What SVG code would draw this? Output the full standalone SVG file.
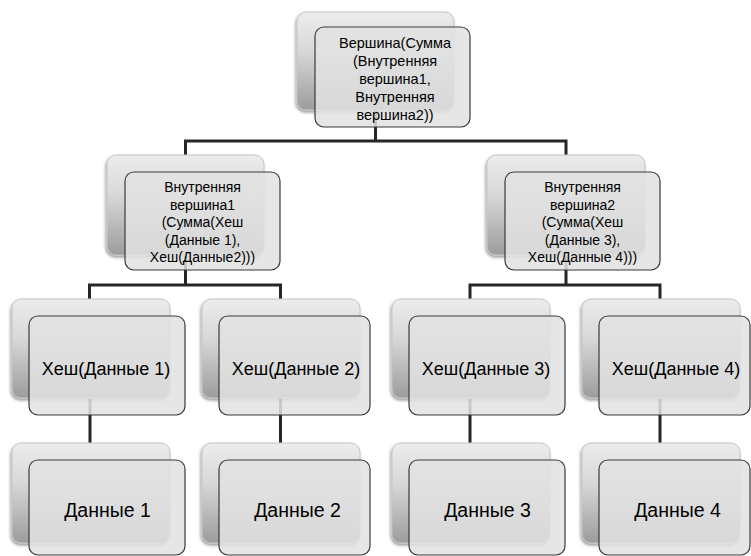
<svg xmlns="http://www.w3.org/2000/svg" width="751" height="556" viewBox="0 0 751 556">
<defs>
<linearGradient id="gb" x1="0" y1="0" x2="0" y2="1">
<stop offset="0" stop-color="#ececec"/>
<stop offset="0.4" stop-color="#d8d8d8"/>
<stop offset="1" stop-color="#9c9c9c"/>
</linearGradient>
<filter id="sh" x="-10%" y="-10%" width="120%" height="125%">
<feDropShadow dx="-1" dy="2" stdDeviation="1.5" flood-color="#000" flood-opacity="0.4"/>
</filter>
</defs>
<style>
.back{fill:url(#gb);stroke:#c4c4c4;stroke-width:1;filter:url(#sh)}
.front{fill:#e2e2e2;fill-opacity:0.86;stroke:#3a3a3a;stroke-width:1.2}
.conn{fill:none;stroke:#262626;stroke-width:3;stroke-linejoin:miter;stroke-linecap:butt}
text{font-family:"Liberation Sans",Arial,sans-serif;fill:#000;text-anchor:middle}
.t{font-size:14.5px}
.s{font-size:14px}
.b{font-size:18px}
.d{font-size:19.5px}
</style>
<rect width="751" height="556" fill="#fff"/>
<g id="connectors">
<path class="conn" d="M375.5 110 V141 M185.5 155 V141 H566 V155"/>
<path class="conn" d="M185.5 255 V285 M89.5 299 V285 H280.5 V299"/>
<path class="conn" d="M566 255 V285 M470 299 V285 H660 V299"/>
<path class="conn" d="M90 398 V443 M280.5 398 V443 M470 398 V443 M660 398 V443"/>
</g>
<g id="root">
<rect class="back" x="297" y="12" width="157" height="98" rx="9"/>
<rect class="front" x="315" y="27" width="155" height="100" rx="9"/>
<text class="t"><tspan x="395" y="48">Вершина(Сумма</tspan><tspan x="395" y="66">(Внутренняя</tspan><tspan x="395" y="84">вершина1,</tspan><tspan x="395" y="102">Внутренняя</tspan><tspan x="395" y="120">вершина2))</tspan></text>
</g>
<g id="inner1">
<rect class="back" x="107" y="155" width="157" height="100" rx="9"/>
<rect class="front" x="125" y="172" width="155" height="98" rx="9"/>
<text class="s"><tspan x="202.5" y="192">Внутренняя</tspan><tspan x="202.5" y="209.5">вершина1</tspan><tspan x="202.5" y="227">(Сумма(Хеш</tspan><tspan x="202.5" y="244.5">(Данные 1),</tspan><tspan x="202.5" y="262">Хеш(Данные2)))</tspan></text>
</g>
<g id="inner2">
<rect class="back" x="487" y="155" width="158" height="100" rx="9"/>
<rect class="front" x="505" y="172" width="155" height="98" rx="9"/>
<text class="s"><tspan x="582.5" y="192">Внутренняя</tspan><tspan x="582.5" y="209.5">вершина2</tspan><tspan x="582.5" y="227">(Сумма(Хеш</tspan><tspan x="582.5" y="244.5">(Данные 3),</tspan><tspan x="582.5" y="262">Хеш(Данные 4)))</tspan></text>
</g>
<g id="hash1">
<rect class="back" x="12" y="299" width="158" height="99" rx="9"/>
<rect class="front" x="29" y="316" width="156" height="99" rx="9"/>
<text class="b" x="106" y="374.5">Хеш(Данные 1)</text>
</g>
<g id="hash2">
<rect class="back" x="202" y="299" width="158" height="99" rx="9"/>
<rect class="front" x="219" y="316" width="151" height="99" rx="9"/>
<text class="b" x="296" y="374.5">Хеш(Данные 2)</text>
</g>
<g id="hash3">
<rect class="back" x="392" y="299" width="158" height="99" rx="9"/>
<rect class="front" x="409" y="316" width="156" height="99" rx="9"/>
<text class="b" x="486" y="374.5">Хеш(Данные 3)</text>
</g>
<g id="hash4">
<rect class="back" x="582" y="299" width="158" height="99" rx="9"/>
<rect class="front" x="599" y="316" width="151" height="99" rx="9"/>
<text class="b" x="676" y="374.5">Хеш(Данные 4)</text>
</g>
<g id="data1">
<rect class="back" x="12" y="443" width="158" height="100" rx="9"/>
<rect class="front" x="29" y="460" width="156" height="95" rx="9"/>
<text class="d" x="107.5" y="517">Данные 1</text>
</g>
<g id="data2">
<rect class="back" x="202" y="443" width="158" height="100" rx="9"/>
<rect class="front" x="219" y="460" width="151" height="95" rx="9"/>
<text class="d" x="297.5" y="517">Данные 2</text>
</g>
<g id="data3">
<rect class="back" x="392" y="443" width="158" height="100" rx="9"/>
<rect class="front" x="409" y="460" width="156" height="95" rx="9"/>
<text class="d" x="487.5" y="517">Данные 3</text>
</g>
<g id="data4">
<rect class="back" x="582" y="443" width="158" height="100" rx="9"/>
<rect class="front" x="599" y="460" width="151" height="95" rx="9"/>
<text class="d" x="677.5" y="517">Данные 4</text>
</g>
</svg>
